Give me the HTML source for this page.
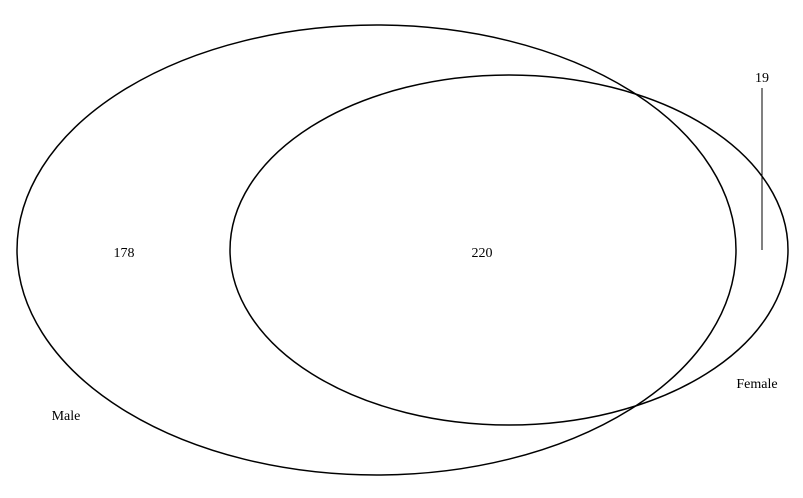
<!DOCTYPE html>
<html>
<head>
<meta charset="utf-8">
<style>
  html,body{margin:0;padding:0;background:#fff;}
  svg{display:block;}
  text{font-family:"Liberation Serif",serif;font-size:14px;fill:#000;}
</style>
</head>
<body>
<svg id="chart" width="803" height="498" viewBox="0 0 803 498">
  <g id="sets"></g>
  <g id="labels"></g>
</svg>
<script>
const setNames = ["Male", "Female"];
const regionNames = ["male-only", "both", "female-only"];
const regionCounts = [178, 220, 19];

const NS = "http://www.w3.org/2000/svg";
const sets = document.getElementById("sets");
const labels = document.getElementById("labels");

const ellipses = [
  {cx: 376.5, cy: 250, rx: 359.5, ry: 225, lx: 66, ly: 420},
  {cx: 509, cy: 250, rx: 279, ry: 175, lx: 757, ly: 388}
];
ellipses.forEach((e, i) => {
  const el = document.createElementNS(NS, "ellipse");
  el.setAttribute("cx", e.cx); el.setAttribute("cy", e.cy);
  el.setAttribute("rx", e.rx); el.setAttribute("ry", e.ry);
  el.setAttribute("fill", "none"); el.setAttribute("stroke", "#000"); el.setAttribute("stroke-width", "1.5");
  
  
  sets.appendChild(el);
  const t = document.createElementNS(NS, "text");
  t.setAttribute("x", e.lx); t.setAttribute("y", e.ly); t.setAttribute("text-anchor", "middle");
  t.textContent = setNames[i];
  
  
  labels.appendChild(t);
});

const regionPos = [{x: 124, y: 257}, {x: 482, y: 257}, {x: 762, y: 82}];
regionCounts.forEach((v, i) => {
  const t = document.createElementNS(NS, "text");
  t.setAttribute("x", regionPos[i].x); t.setAttribute("y", regionPos[i].y); t.setAttribute("text-anchor", "middle");
  t.textContent = v;
  
  
  labels.appendChild(t);
});
const leader = document.createElementNS(NS, "line");
leader.setAttribute("x1", 762); leader.setAttribute("x2", 762);
leader.setAttribute("y1", 88); leader.setAttribute("y2", 250);
leader.setAttribute("stroke", "#000"); leader.setAttribute("stroke-width", "1");


labels.appendChild(leader);
</script>
</body>
</html>
